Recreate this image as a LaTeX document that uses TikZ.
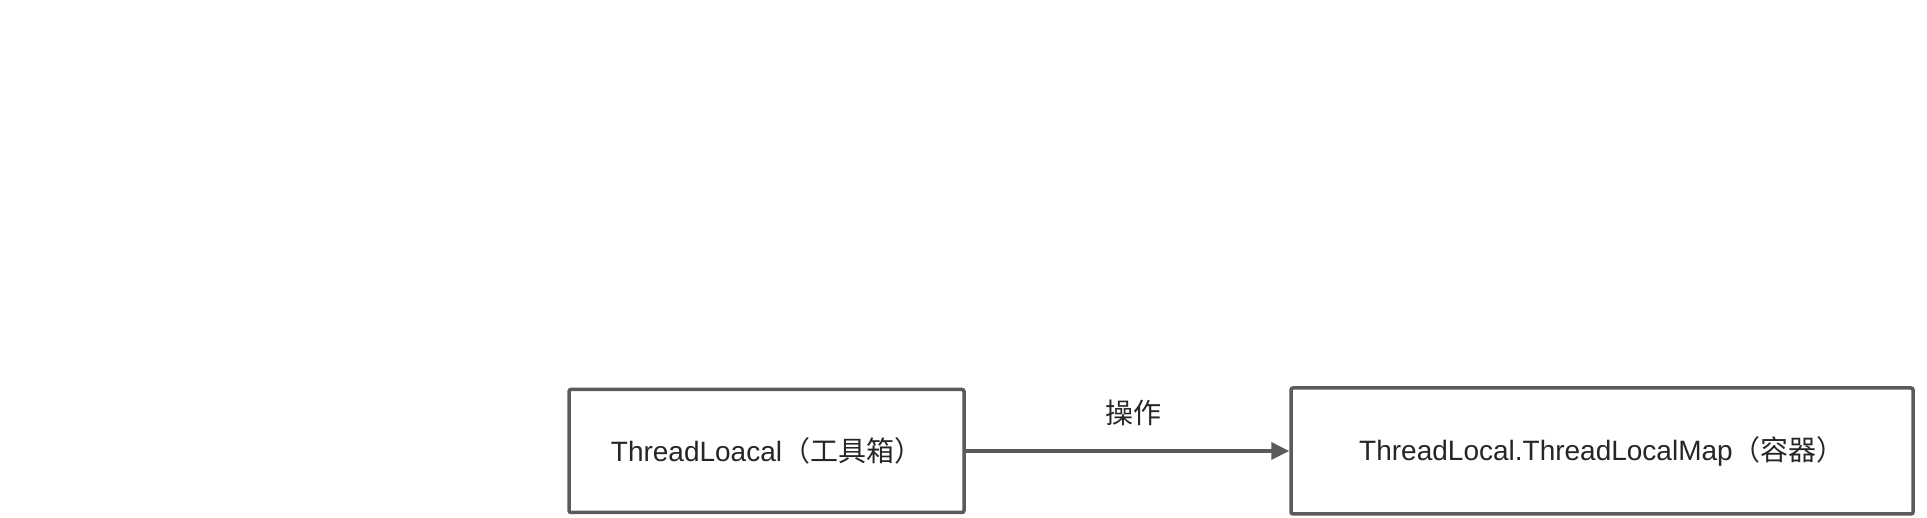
\documentclass[tikz,border=0pt]{standalone}
\usepackage{fontspec}
\setmainfont{Liberation Sans}
\newfontfamily\cjk{Noto Sans CJK SC}
\usetikzlibrary{arrows.meta,positioning}
\definecolor{linegray}{HTML}{5A5A5A}
\definecolor{textgray}{HTML}{262626}
\tikzset{
  box/.style={draw=linegray,line width=3.5pt,rounded corners=2pt,inner sep=0pt,
    text=textgray,font=\fontsize{28}{34}\selectfont},
  link/.style={draw=linegray,line width=3.5pt,-{Triangle[length=18pt,width=17pt]}},
  linklabel/.style={inner sep=0pt,text=textgray,font=\fontsize{28}{34}\selectfont\cjk}
}

\begin{document}
\begin{tikzpicture}[x=1pt,y=1pt]
  \useasboundingbox (0,0) rectangle (1927,518);
  \node[box,minimum width=395pt,minimum height=123pt] (tool) at (766.5,67) {ThreadLoacal{\cjk （工具箱）}};
  \node[box,minimum width=622pt,minimum height=126pt] (map) at (1602,67) {ThreadLocal.ThreadLocalMap{\cjk （容器）}};
  \draw[link] (tool) -- node[linklabel,above=23pt,xshift=6pt] (op) {操作} (map);
\end{tikzpicture}
\end{document}
